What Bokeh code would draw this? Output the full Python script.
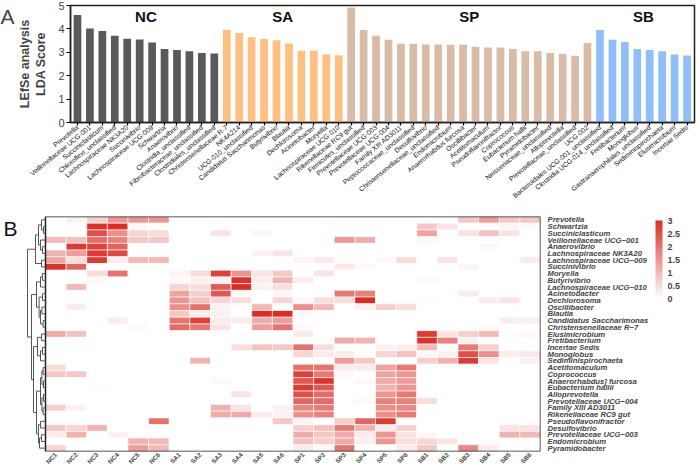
import math
from bokeh.plotting import figure
from bokeh.models import Range1d, FixedTicker, ColorBar, LinearColorMapper, Label, ColumnDataSource
from bokeh.layouts import column, row
from bokeh.embed import file_html
from bokeh.resources import INLINE
from bokeh.core.properties import value

FONT = "Liberation Sans"

# ---------------- Panel A data (LEfSe LDA scores) ----------------
nc_taxa = ["Prevotella", "Veillonellaceae UCG-001", "Succiniclasticum", "Chloroflexi_unclassified",
           "Lachnospiraceae NK3A20", "Succinivibrio", "Lachnospiraceae UCG-009", "Schwartzia",
           "Anaerovibrio", "Clostridia_unclassified", "Fibrobacteraceae_unclassified",
           "Clostridiales_unclassified"]
nc_lda = [4.59, 4.02, 3.91, 3.71, 3.58, 3.55, 3.42, 3.14, 3.10, 3.04, 2.97, 2.95]

sa_taxa = ["Christensenellaceae R-7", "NK4A214", "UCG-010_unclassified", "Candidatus Saccharimonas",
           "Butyrivibrio", "Blautia", "Dechlorosoma", "Acinetobacter", "Moryella",
           "Lachnospiraceae UCG-010"]
sa_lda = [3.95, 3.82, 3.64, 3.58, 3.52, 3.38, 3.07, 3.07, 2.91, 2.87]

sp_taxa = ["Rikenellaceae RC9 gut", "Firmicutes_unclassified", "Prevotellaceae UCG-003",
           "Prevotellaceae UCG-004", "Family XIII AD3011", "Peptococcaceae_unclassified",
           "Desulfovibrio", "Christensenellaceae_unclassified", "Endomicrobium",
           "Anaerorhabdus furcosa", "Oscillibacter", "Acetitomaculum", "Pseudoflavonifractor",
           "Coprococcus", "Eubacterium hallii", "Pyramidobacter", "Neisseriaceae_unclassified",
           "Alloprevotella", "Prevotellaceae_unclassified", "UCG-002"]
sp_lda = [4.91, 3.95, 3.71, 3.54, 3.37, 3.37, 3.33, 3.33, 3.32, 3.32, 3.24, 3.21, 3.20, 3.14,
          3.04, 3.04, 2.97, 2.94, 2.85, 3.40]

sb_taxa = ["Bacteroidales UCG-001_unclassified", "Clostridia UCG-014_unclassified", "Fretibacterium",
           "Monoglobus", "Gastranaerophilales_unclassified", "Sediminispirochaeta", "Elusimicrobium",
           "Incertae Sedis"]
sb_lda = [3.95, 3.54, 3.44, 3.14, 3.10, 3.04, 2.91, 2.86]

group_names = ["NC", "SA", "SP", "SB"]
group_colors = ["#5a5a5a", "#ffc081", "#d9bca7", "#8fbff6"]

# ---------------- Panel B data (heatmap) ----------------
heat_rows = ["Prevotella", "Schwartzia", "Succiniclasticum", "Veillonellaceae UCG\u2212001",
             "Anaerovibrio", "Lachnospiraceae NK3A20", "Lachnospiraceae UCG\u2212009",
             "Succinivibrio", "Moryella", "Butyrivibrio", "Lachnospiraceae UCG\u2212010",
             "Acinetobacter", "Dechlorosoma", "Oscillibacter", "Blautia",
             "Candidatus Saccharimonas", "Christensenellaceae R\u22127", "Elusimicrobium",
             "Fretibacterium", "Incertae Sedis", "Monoglobus", "Sediminispirochaeta",
             "Acetitomaculum", "Coprococcus", "Anaerorhabdus] furcosa", "Eubacterium hallii",
             "Alloprevotella", "Prevotellaceae UCG\u2212004", "Family XIII AD3011",
             "Rikenellaceae RC9 gut", "Pseudoflavonifractor", "Desulfovibrio",
             "Prevotellaceae UCG\u2212003", "Endomicrobium", "Pyramidobacter"]

heat_cols = ["NC1", "NC2", "NC3", "NC4", "NC5", "NC6",
             "SA1", "SA2", "SA3", "SA4", "SA5", "SA6",
             "SP1", "SP2", "SP3", "SP4", "SP5", "SP6",
             "SB1", "SB2", "SB3", "SB4", "SB5", "SB6"]

Z = [0, 0, 0, 0, 0, 0]
nc_heat = [
    [0, .2, .7, 1.5, 1.5, 1.5], [0, 0, 2.9, 3.0, .1, 0], [0, 0, 2.5, 1.6, .6, .5],
    [1.0, .9, 2.1, 1.8, .8, .8], [0, 2.8, 2.7, 2.2, 0, 0], [1.1, 1.4, 2.8, 2.6, 0, 0],
    [1.3, .5, 2.8, .3, 1.0, 1.0], [2.9, 2.2, 0, 0, 0, 0], [0, 0, .5, 2.0, 0, 0],
    [0, 0, .1, 0, 0, 0], [0, 1.0, 0, 0, 0, 0], Z, Z, [0, .3, 0, 0, 0, 0], Z,
    [0, 0, 0, .3, 0, 0], [0, 0, 0, 0, .1, 0], [1.2, .9, 0, 0, 0, 0], Z, Z, Z, Z,
    [.5, 0, 0, 0, 0, 0], [.8, .8, 0, 0, 0, 0], Z, [0, 0, .05, 0, 0, 0], Z, Z,
    [.7, .2, 0, 0, 0, 0], Z, [0, 0, 0, 0, 0, 2.0], [.8, .6, 1.1, 0, 0, 0],
    [.3, 1.1, 0, .2, 0, 0], [0, 0, 0, 0, 1.1, 1.0], [.6, 0, 0, 0, 1.4, 1.0]]
sa_heat = [
    Z, Z, [0, 0, .4, 0, .15, 0], Z, Z, [0, 0, 0, 0, .2, .4], Z, Z,
    [.15, .5, 2.7, 1.5, .4, .8], [.1, .2, .2, 2.9, .3, 1.1], [.6, .5, 2.3, 3.0, .2, .5],
    [1.3, .7, 2.4, .1, 0, .1], [1.5, .9, .6, .5, 0, .6], [1.6, 2.0, .2, 0, 1.0, 0],
    [.8, .3, .2, 0, 3.0, 3.0], [2.0, 2.7, .3, .3, 1.2, 1.4], [2.1, 1.9, .4, 0, 1.4, 2.0],
    Z, Z, [0, 0, 0, .5, .9, .8], Z, [0, 1.1, 0, 0, 0, 0], Z, Z, [0, 0, .1, 0, 0, 0], Z,
    [0, 0, 0, .4, 0, 0], Z, [0, 0, 1.1, .4, 0, .2], [0, 0, 1.2, 1.2, .3, .2],
    [0, 0, 0, 0, 0, .8], Z, Z, Z, Z]
sp_heat = [
    Z, Z, Z, [0, 0, 1.5, 1.2, 0, 0], [0, 0, .05, 0, 0, 0], Z, [.15, .3, 0, 0, .1, .5],
    [0, 0, .35, .1, 0, 0], [0, .4, 0, 0, 0, 0], [.3, 0, 0, 0, 0, 0], Z,
    [0, 0, 1.9, 1.8, 0, 0], [.1, .5, .5, 3.0, 0, 0], [1.6, 1.0, 0, .2, .7, .5],
    [.1, 0, 0, 0, 0, 0], Z, [.1, 0, 0, 0, 0, 0], [.3, 0, 0, 0, 0, 0],
    [0, 0, 1.2, 1.1, 0, 0], [2.0, .5, 0, 0, .2, .25], [.6, .3, .3, 0, .6, .9],
    [0, 0, 1.4, .8, 0, 0], [2.0, 2.0, .3, .3, 1.3, 1.9], [2.7, 1.9, .1, 0, 1.3, 1.5],
    [2.4, 2.9, 0, .1, 1.2, 1.4], [2.8, 2.4, 0, 0, 1.1, 1.5], [2.5, 2.1, 0, 0, 1.5, 1.9],
    [2.2, 2.1, 0, .1, 1.8, 1.8], [1.7, 1.9, 0, 0, 1.6, 1.7], [1.6, 1.8, 0, 0, 1.6, 1.9],
    [.15, 0, .7, 2.2, 2.8, 0], [.7, .9, 1.9, 1.1, .3, .7], [1.2, .8, 1.2, .3, 1.5, .4],
    [.9, .7, 1.2, .2, 1.5, .5], [.3, .1, 2.0, 0, 0, .3]]
sb_heat = [
    [0, 0, .8, 1.4, .8, .8], [.8, .4, 0, 0, .15, .1], [1.3, 0, .4, .9, .4, 0],
    [.1, 0, 0, 0, 0, 0], [0, 0, 0, .1, 0, 0], Z, [0, .4, 0, 0, 0, .3],
    [0, 0, .15, 0, 0, 0], Z, [.1, 0, 0, 0, 0, 0], Z, [0, 0, .3, 0, 0, 0],
    [.05, 0, 0, .3, .4, 0], Z, Z, [0, 0, 0, 0, .3, .25], [0, 0, 0, .1, 0, 0],
    [2.8, .4, .7, 1.0, 0, .1], [2.9, 1.8, .2, 0, 0, 0], [1.0, 0, 1.9, .7, 0, 0],
    [.1, .2, 2.5, 1.6, .25, .35], [.7, 1.1, 2.8, .4, 0, .2], Z, Z, Z, Z, Z,
    [.5, 0, 0, 0, 0, 0], Z, Z, Z, [0, 0, 0, 0, .4, .4], [.1, 0, 0, 0, 1.1, 1.0],
    [.6, .4, 0, 0, 0, 0], [.8, 0, 1.7, .3, 0, 0]]

# Row dendrogram: (left node, right node, merge height); leaves 0..34, new nodes from 35
dendro_merges = [
    (1, 2, 1.0), (0, 35, 2.0), (4, 5, 1.5), (3, 37, 2.5), (6, 7, 2.0), (36, 38, 3.5),
    (40, 39, 5.0),
    (8, 9, 1.5), (42, 10, 2.5), (11, 12, 1.5), (13, 14, 1.8), (15, 16, 1.2), (45, 46, 2.5),
    (44, 47, 3.2), (43, 48, 4.5),
    (17, 18, 2.0), (19, 20, 1.5), (51, 21, 2.5), (50, 52, 4.0),
    (22, 23, 1.2), (24, 25, 1.0), (54, 55, 1.8), (26, 27, 1.0), (28, 29, 1.2), (57, 58, 1.8),
    (56, 59, 2.5), (30, 31, 2.5), (32, 33, 2.0), (62, 34, 3.0), (61, 63, 3.5), (60, 64, 4.5),
    (53, 65, 6.0), (49, 66, 7.0), (41, 67, 9.0)]

# ---------------- Panel A ----------------
bar_names = nc_taxa + sa_taxa + sp_taxa + sb_taxa
bar_vals = nc_lda + sa_lda + sp_lda + sb_lda
group_sizes = [len(nc_taxa), len(sa_taxa), len(sp_taxa), len(sb_taxa)]
bar_colors = []
for c, n in zip(group_colors, group_sizes):
    bar_colors += [c] * n
bar_x = list(range(len(bar_names)))

top = figure(width=696, height=208, x_range=Range1d(-0.56, len(bar_names) - 0.4),
             y_range=Range1d(0, 5), output_backend="svg", toolbar_location=None,
             min_border_left=67, min_border_right=2, min_border_top=5, min_border_bottom=86)
top.vbar(x=bar_x, top=bar_vals, width=0.62, fill_color=bar_colors, line_color=None)

gx, gy, start = [], [], 0
for n in group_sizes:
    gx.append(start + (n - 1) / 2)
    gy.append(4.55)
    start += n
top.text(x=gx, y=gy, text=group_names, text_font=value(FONT), text_font_style="bold",
         text_font_size="15px", text_align="center", text_baseline="middle", text_color="#111111")

top.xgrid.visible = False
top.ygrid.visible = False
top.outline_line_color = "#222222"
top.outline_line_width = 1.5
top.xaxis.ticker = FixedTicker(ticks=bar_x)
top.xaxis.major_label_overrides = {i: n for i, n in enumerate(bar_names)}
top.xaxis.major_label_orientation = 0.68
top.xaxis.major_label_text_font_size = "6.8px"
top.xaxis.major_label_text_font = FONT
top.xaxis.major_label_text_color = "#111111"
top.xaxis.major_label_standoff = 1
top.xaxis.minor_tick_line_color = None
top.xaxis.major_tick_in = 0
top.xaxis.major_tick_out = 3
top.yaxis.ticker = FixedTicker(ticks=[0, 1, 2, 3, 4, 5])
top.yaxis.minor_tick_line_color = None
top.yaxis.major_tick_in = 0
top.yaxis.major_tick_out = 4
top.yaxis.major_label_standoff = 2
top.yaxis.major_label_text_font_size = "11px"
top.yaxis.major_label_text_font = FONT
top.yaxis.axis_label = "LEfSe analysis\nLDA Score"
top.yaxis.axis_label_text_font = FONT
top.yaxis.axis_label_text_font_style = "bold"
top.yaxis.axis_label_text_font_size = "12.5px"
top.yaxis.axis_label_standoff = 7
for ax in (top.xaxis, top.yaxis):
    ax.axis_line_width = 1.5
    ax.axis_line_color = "#222222"
    ax.major_tick_line_width = 1.2
top.add_layout(Label(x=0, y=118, x_units="screen", y_units="screen", text="A",
                     text_font=FONT, text_font_size="21px",
                     text_baseline="top", text_align="left"), "left")

# ---------------- Panel B ----------------
n_rows = len(heat_rows)
n_cols = len(heat_cols)
cx, cy, cv = [], [], []
for i in range(n_rows):
    row_vals = nc_heat[i] + sa_heat[i] + sp_heat[i] + sb_heat[i]
    for j, v in enumerate(row_vals):
        cx.append(j)
        cy.append(n_rows - 1 - i)
        cv.append(v)

lo = (255, 255, 255)
hi = (216, 46, 38)
palette = []
for k in range(256):
    t = k / 255
    palette.append("#%02x%02x%02x" % tuple(round(lo[c] + (hi[c] - lo[c]) * t) for c in range(3)))
mapper = LinearColorMapper(palette=palette, low=0, high=3)

x_left = -0.5 - 45 / 20.625
heat = figure(width=696, height=262, x_range=Range1d(x_left, n_cols - 0.5),
              y_range=Range1d(-0.5, n_rows - 0.5), y_axis_location="right",
              output_backend="svg", toolbar_location=None,
              min_border_left=0, min_border_right=156, min_border_top=8, min_border_bottom=14)
src = ColumnDataSource(dict(x=cx, y=cy, v=cv))
heat.rect(x="x", y="y", width=1, height=1, source=src,
          fill_color={"field": "v", "transform": mapper}, line_color="white", line_width=0.6)
heat.rect(x=[(n_cols - 1) / 2], y=[(n_rows - 1) / 2], width=n_cols, height=n_rows,
          fill_color=None, line_color="#222222", line_width=1.5)

# dendrogram
x0 = -0.5
hscale = 0.873 / max(m[2] for m in dendro_merges)
node_y = {i: n_rows - 1 - i for i in range(n_rows)}
node_h = {i: 0.0 for i in range(n_rows)}
dxs, dys = [], []
for k, (a, b, h) in enumerate(dendro_merges):
    nid = n_rows + k
    ya, yb = node_y[a], node_y[b]
    node_y[nid] = (ya + yb) / 2
    node_h[nid] = h
    xa = x0 - node_h[a] * hscale
    xb = x0 - node_h[b] * hscale
    xn = x0 - h * hscale
    dxs.append([xa, xn, xn, xb])
    dys.append([ya, ya, yb, yb])
heat.multi_line(xs=dxs, ys=dys, line_color="#555555", line_width=1)
heat.text(x=[x_left + 3 / 20.625], y=[n_rows - 0.5], text=["B"], text_font=value(FONT),
          text_font_size="21px", text_baseline="top", text_align="left", text_color="#111111")

heat.outline_line_color = None
heat.xgrid.visible = False
heat.ygrid.visible = False
heat.xaxis.ticker = FixedTicker(ticks=list(range(n_cols)))
heat.xaxis.major_label_overrides = {j: c for j, c in enumerate(heat_cols)}
heat.xaxis.major_label_orientation = math.pi / 4
heat.xaxis.major_label_text_font_size = "6.3px"
heat.xaxis.major_label_text_font_style = "bold"
heat.xaxis.major_label_text_font = FONT
heat.xaxis.major_label_standoff = 2
heat.xaxis.major_tick_in = 0
heat.xaxis.major_tick_out = 0
heat.xaxis.axis_line_color = None
heat.xaxis.major_tick_line_color = None
heat.xaxis.minor_tick_line_color = None
heat.yaxis.ticker = FixedTicker(ticks=list(range(n_rows)))
heat.yaxis.major_label_overrides = {n_rows - 1 - i: r for i, r in enumerate(heat_rows)}
heat.yaxis.major_label_text_font_size = "7.7px"
heat.yaxis.major_label_text_font_style = "bold italic"
heat.yaxis.major_label_text_font = FONT
heat.yaxis.major_label_standoff = 7
heat.yaxis.major_tick_in = 0
heat.yaxis.major_tick_out = 0
heat.yaxis.axis_line_color = None
heat.yaxis.major_tick_line_color = None
heat.yaxis.minor_tick_line_color = None

cbar = ColorBar(color_mapper=mapper, width=7, height=78, location="top_left",
                ticker=FixedTicker(ticks=[0, 0.5, 1, 1.5, 2, 2.5, 3]),
                major_label_overrides={0: "0", 0.5: "0.5", 1: "1", 1.5: "1.5", 2: "2",
                                       2.5: "2.5", 3: "3"},
                major_label_text_font_size="9px", major_label_text_font_style="bold",
                major_label_text_font=FONT, major_tick_line_color=None,
                bar_line_color=None, padding=4, margin=0, label_standoff=5,
                background_fill_color=None)
heat.add_layout(cbar, "right")

layout = column(row(top), row(heat), spacing=0)
open("out.html", "w").write(file_html(layout, INLINE))
